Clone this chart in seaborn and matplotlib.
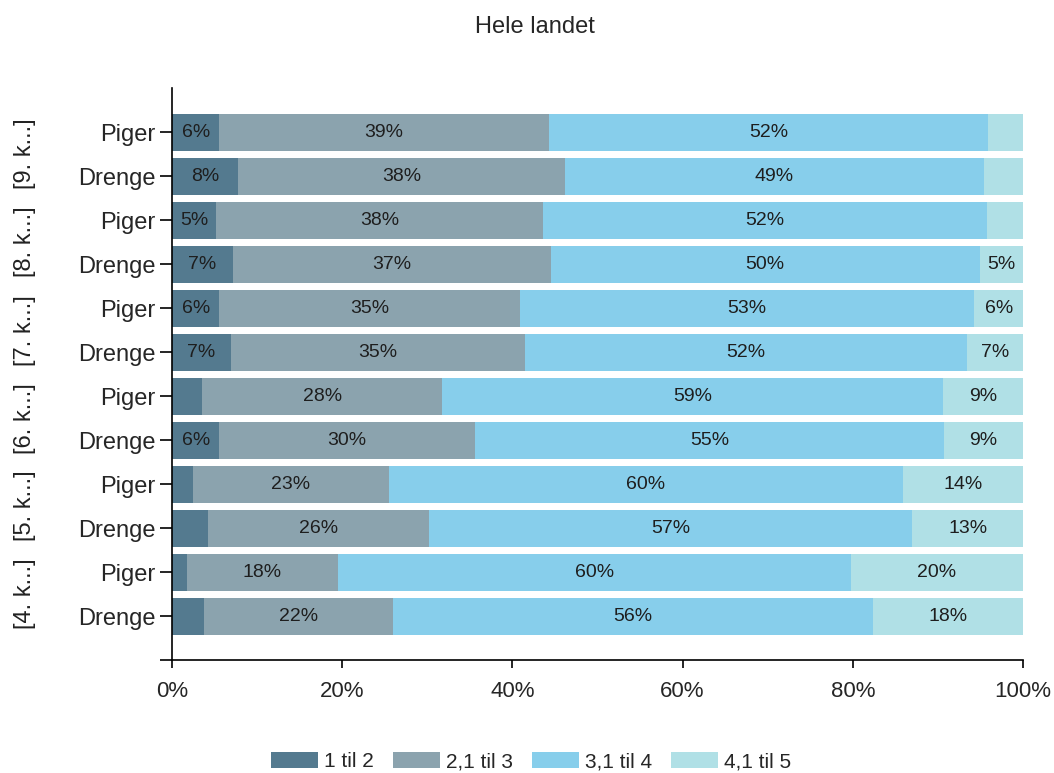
import numpy as np
import pandas as pd
import seaborn as sns
import matplotlib.pyplot as plt
from matplotlib.patches import Patch
from matplotlib.transforms import blended_transform_factory

# data (rows listed top to bottom)
grades = ["9. k...", "8. k...", "7. k...", "6. k...", "5. k...", "4. k..."]
genders = ["Piger", "Drenge"]
categories = ["1 til 2", "2,1 til 3", "3,1 til 4", "4,1 til 5"]

share_1til2 = [5.6, 7.8, 5.2, 7.2, 5.6, 6.9, 3.6, 5.6, 2.5, 4.2, 1.8, 3.8]
share_2til3 = [38.7, 38.4, 38.4, 37.3, 35.3, 34.6, 28.2, 30.0, 23.0, 26.0, 17.7, 22.2]
share_3til4 = [51.6, 49.2, 52.2, 50.4, 53.4, 51.9, 58.8, 55.1, 60.4, 56.8, 60.3, 56.4]
share_4til5 = [4.1, 4.6, 4.2, 5.1, 5.7, 6.6, 9.4, 9.3, 14.1, 13.0, 20.2, 17.6]

colors = ["#547a8f", "#8ba3ae", "#87ceeb", "#b0e0e6"]

sns.set_style("ticks")
plt.rcParams["font.family"] = ["Liberation Sans", "DejaVu Sans"]

rows = [f"{g}|{s}" for g in grades for s in genders]
df = pd.DataFrame({"row": rows,
                   categories[0]: share_1til2,
                   categories[1]: share_2til3,
                   categories[2]: share_3til4,
                   categories[3]: share_4til5})
cum = df[categories].cumsum(axis=1)
for c in categories:
    df["cum_" + c] = cum[c]

fig, ax = plt.subplots(figsize=(10.54, 7.73), dpi=100)
fig.subplots_adjust(left=0.163, right=0.9706, bottom=0.146, top=0.886)

# stacked bars by layering cumulative totals, widest first
for c, col in reversed(list(zip(categories, colors))):
    sns.barplot(data=df, x="cum_" + c, y="row", color=col, orient="h",
                width=0.84, saturation=1, linewidth=0, ax=ax)

# value labels
for i, r in df.iterrows():
    left = 0
    for c in categories:
        v = r[c]
        if v >= 4.8:
            ax.text(left + v / 2, i, f"{v:.0f}%", ha="center", va="center",
                    fontsize=14, color="#1e1e1e")
        left += v

ax.set_xlim(0, 100)
ax.set_ylim(12, -1)
ax.set_xticks([0, 20, 40, 60, 80, 100])
ax.set_xticklabels([f"{t}%" for t in [0, 20, 40, 60, 80, 100]], fontsize=16)
ax.set_yticks(list(range(len(rows))) + [12])
ax.set_yticklabels([r.split("|")[1] for r in rows] + [""], fontsize=17)
ax.tick_params(axis="y", length=9, width=1.2, color="black", pad=3)
ax.tick_params(axis="x", length=6, width=1.2, color="black", pad=9)
ax.set_xlabel("")
ax.set_ylabel("")
sns.despine(ax=ax)
for sp in ["left", "bottom"]:
    ax.spines[sp].set_linewidth(1.2)
    ax.spines[sp].set_color("black")

# grade group labels
trans = blended_transform_factory(fig.transFigure, ax.transData)
for k, g in enumerate(grades):
    ax.text(0.024, 2 * k + 0.5, f"[{g}]", rotation=90, ha="center", va="center",
            fontsize=17, transform=trans, color="#222222")

fig.text(0.508, 0.965, "Hele landet", ha="center", va="center", fontsize=17)

handles = [Patch(facecolor=col, edgecolor="none", label=c) for c, col in zip(categories, colors)]
fig.legend(handles=handles, ncol=4, loc="lower center", bbox_to_anchor=(0.504, -0.022),
           frameon=False, fontsize=15, handlelength=2.25, handleheight=0.85,
           handletextpad=0.3, columnspacing=0.9)

fig.savefig("out.png", dpi=100)
